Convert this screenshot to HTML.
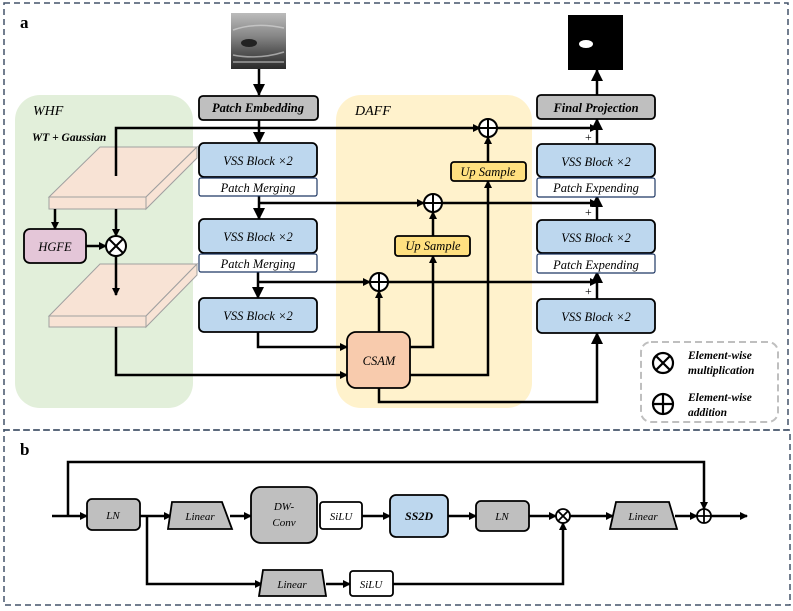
<!DOCTYPE html>
<html><head><meta charset="utf-8"><style>
body{margin:0;background:#fff}
svg{display:block}
text{font-family:"Liberation Serif",serif;font-style:italic}
text.n{font-style:normal}
</style></head><body>
<svg width="793" height="611" viewBox="0 0 793 611" xmlns="http://www.w3.org/2000/svg">
<defs>
<marker id="ah" markerWidth="8" markerHeight="8" refX="7" refY="4" orient="auto" markerUnits="userSpaceOnUse"><path d="M0,0 L8,4 L0,8 z" fill="#000"/></marker>
<marker id="ab" markerWidth="12" markerHeight="12" refX="11" refY="6" orient="auto" markerUnits="userSpaceOnUse"><path d="M0,0 L12,6 L0,12 z" fill="#000"/></marker>
<linearGradient id="us" x1="0" y1="0" x2="0" y2="1"><stop offset="0" stop-color="#bbb"/><stop offset="0.4" stop-color="#888"/><stop offset="0.7" stop-color="#555"/><stop offset="1" stop-color="#2a2a2a"/></linearGradient>
</defs>
<rect x="4" y="3" width="784" height="427" fill="none" stroke="#44546a" stroke-width="1.5" stroke-dasharray="6,4"/>
<rect x="4" y="430" width="786" height="175" fill="none" stroke="#44546a" stroke-width="1.5" stroke-dasharray="6,4"/>
<text class="n" x="20" y="28" font-weight="bold" font-size="17">a</text>
<text class="n" x="20" y="455" font-weight="bold" font-size="17">b</text>

<rect x="15" y="95" width="178" height="313" rx="25" fill="#e2efda"/>
<rect x="336" y="95" width="196" height="313" rx="25" fill="#fff2cc"/>
<text x="33" y="115" font-size="14">WHF</text>
<text x="355" y="115" font-size="14">DAFF</text>
<text x="32" y="141" font-size="11.5" font-weight="bold">WT + Gaussian</text>

<rect x="231" y="13" width="55" height="56" fill="url(#us)"/>
<path d="M233,30 Q255,22 284,28 M233,55 Q258,60 284,52 M233,62 H284" stroke="#ddd" stroke-width="1.5" fill="none" opacity="0.6"/>
<ellipse cx="249" cy="43" rx="8" ry="4" fill="#222"/>
<rect x="568" y="15" width="55" height="55" fill="#000"/>
<ellipse cx="586" cy="44" rx="7" ry="4" fill="#fff"/>

<g fill="#f8e3d5" stroke="#a0a0a0" stroke-width="1">
<polygon points="49,197 100,147 197,147 146,197"/>
<rect x="49" y="197" width="97" height="12"/>
<polygon points="146,197 197,147 197,158 146,209"/>
<polygon points="49,316 100,264 197,264 146,316"/>
<rect x="49" y="316" width="97" height="11"/>
<polygon points="146,316 197,264 197,275 146,327"/>
</g>

<g stroke="#000" stroke-width="2.5" fill="none">
<line x1="259" y1="69" x2="259" y2="95" marker-end="url(#ab)"/>
<line x1="259" y1="120" x2="259" y2="143" marker-end="url(#ab)"/>
<polyline points="116,176 116,128 480,128" marker-end="url(#ah)"/>
<line x1="496" y1="128" x2="597" y2="128" marker-end="url(#ah)"/>
<line x1="55" y1="209" x2="55" y2="229" marker-end="url(#ah)"/>
<line x1="116" y1="209" x2="116" y2="236" marker-end="url(#ah)"/>
<line x1="86" y1="246" x2="106" y2="246" marker-end="url(#ah)"/>
<line x1="116" y1="256" x2="116" y2="295" marker-end="url(#ah)"/>
<polyline points="116,327 116,375 347,375" marker-end="url(#ah)"/>
<line x1="259" y1="196" x2="259" y2="219" marker-end="url(#ab)"/>
<line x1="259" y1="203" x2="424" y2="203" marker-end="url(#ah)"/>
<line x1="441" y1="203" x2="597" y2="203" marker-end="url(#ah)"/>
<line x1="258" y1="272" x2="258" y2="298" marker-end="url(#ab)"/>
<line x1="258" y1="282" x2="370" y2="282" marker-end="url(#ah)"/>
<line x1="388" y1="282" x2="597" y2="282" marker-end="url(#ah)"/>
<polyline points="258,332 258,347 347,347" marker-end="url(#ah)"/>
<line x1="379" y1="332" x2="379" y2="291" marker-end="url(#ah)"/>
<polyline points="410,347 433,347 433,256" marker-end="url(#ah)"/>
<line x1="433" y1="236" x2="433" y2="212" marker-end="url(#ah)"/>
<polyline points="410,375 488,375 488,181" marker-end="url(#ah)"/>
<line x1="488" y1="162" x2="488" y2="137" marker-end="url(#ah)"/>
<polyline points="379,388 379,402 597,402 597,333" marker-end="url(#ab)"/>
<line x1="597" y1="144" x2="597" y2="119" marker-end="url(#ab)"/>
<line x1="597" y1="220" x2="597" y2="196" marker-end="url(#ab)"/>
<line x1="597" y1="299" x2="597" y2="272" marker-end="url(#ab)"/>
<line x1="597" y1="95" x2="597" y2="70" marker-end="url(#ab)"/>
</g>
<g font-size="12" font-family="Liberation Sans">
<text class="n" x="585" y="141">+</text><text class="n" x="585" y="216">+</text><text class="n" x="585" y="295">+</text>
</g>

<g stroke="#000" stroke-width="1.8">
<rect x="199" y="96" width="119" height="24" rx="4" fill="#bfbfbf"/>
<rect x="537" y="95" width="118" height="24" rx="4" fill="#bfbfbf"/>
<rect x="199" y="143" width="118" height="34" rx="5" fill="#bdd7ee"/>
<rect x="199" y="219" width="118" height="34" rx="5" fill="#bdd7ee"/>
<rect x="199" y="298" width="118" height="34" rx="5" fill="#bdd7ee"/>
<rect x="537" y="144" width="118" height="33" rx="5" fill="#bdd7ee"/>
<rect x="537" y="220" width="118" height="33" rx="5" fill="#bdd7ee"/>
<rect x="537" y="299" width="118" height="34" rx="5" fill="#bdd7ee"/>
<rect x="24" y="229" width="62" height="34" rx="6" fill="#e4c6d8"/>
<rect x="347" y="332" width="63" height="56" rx="9" fill="#f8cbad"/>
<rect x="451" y="162" width="75" height="19" rx="3" fill="#ffe080"/>
<rect x="395" y="236" width="75" height="20" rx="3" fill="#ffe080"/>
</g>
<g stroke="#1f3864" stroke-width="1.2" fill="#fff">
<rect x="199" y="178" width="118" height="18" rx="2"/>
<rect x="199" y="254" width="118" height="18" rx="2"/>
<rect x="537" y="178" width="118" height="19" rx="2"/>
<rect x="537" y="254" width="118" height="19" rx="2"/>
</g>
<g text-anchor="middle" font-size="12.5">
<text x="258" y="112" font-weight="bold">Patch Embedding</text>
<text x="596" y="112" font-weight="bold">Final Projection</text>
<text x="258" y="165">VSS Block ×2</text>
<text x="258" y="241">VSS Block ×2</text>
<text x="258" y="320">VSS Block ×2</text>
<text x="596" y="166">VSS Block ×2</text>
<text x="596" y="242">VSS Block ×2</text>
<text x="596" y="321">VSS Block ×2</text>
<text x="258" y="192">Patch Merging</text>
<text x="258" y="268">Patch Merging</text>
<text x="596" y="192">Patch Expending</text>
<text x="596" y="269">Patch Expending</text>
<text x="55" y="251">HGFE</text>
<text x="379" y="365">CSAM</text>
<text x="488" y="176">Up Sample</text>
<text x="433" y="250">Up Sample</text>
</g>
<g stroke="#000" stroke-width="2" fill="#fff">
<circle cx="116" cy="246" r="10"/>
<circle cx="488" cy="128" r="9"/>
<circle cx="433" cy="203" r="9"/>
<circle cx="379" cy="282" r="9"/>
</g>
<g stroke="#000" stroke-width="2">
<path d="M109,239 L123,253 M123,239 L109,253"/>
<path d="M479,128 H497 M488,119 V137"/>
<path d="M424,203 H442 M433,194 V212"/>
<path d="M370,282 H388 M379,273 V291"/>
</g>
<rect x="641" y="342" width="137" height="80" rx="10" fill="#fff" stroke="#bfbfbf" stroke-width="2" stroke-dasharray="7,4"/>
<g stroke="#000" stroke-width="2.2" fill="none">
<circle cx="663" cy="363" r="10"/><path d="M656,356 L670,370 M670,356 L656,370"/>
<circle cx="663" cy="404" r="10"/><path d="M653,404 H673 M663,394 V414"/>
</g>
<g font-size="11.5" font-weight="bold">
<text x="688" y="359">Element-wise</text>
<text x="688" y="374">multiplication</text>
<text x="688" y="401">Element-wise</text>
<text x="688" y="416">addition</text>
</g>

<g stroke="#000" stroke-width="2.5" fill="none">
<line x1="52" y1="516" x2="87" y2="516" marker-end="url(#ah)"/>
<polyline points="68,516 68,462 704,462 704,509" marker-end="url(#ah)"/>
<line x1="140" y1="516" x2="171" y2="516" marker-end="url(#ah)"/>
<line x1="230" y1="516" x2="251" y2="516" marker-end="url(#ah)"/>
<line x1="362" y1="516" x2="390" y2="516" marker-end="url(#ah)"/>
<line x1="448" y1="516" x2="476" y2="516" marker-end="url(#ah)"/>
<line x1="529" y1="516" x2="556" y2="516" marker-end="url(#ah)"/>
<line x1="570" y1="516" x2="613" y2="516" marker-end="url(#ah)"/>
<line x1="675" y1="516" x2="697" y2="516" marker-end="url(#ah)"/>
<line x1="711" y1="516" x2="747" y2="516" marker-end="url(#ah)"/>
<polyline points="147,516 147,584 262,584" marker-end="url(#ah)"/>
<line x1="326" y1="584" x2="350" y2="584" marker-end="url(#ah)"/>
<polyline points="393,584 563,584 563,523" marker-end="url(#ah)"/>
</g>
<g stroke="#000" stroke-width="1.8">
<rect x="87" y="499" width="53" height="31" rx="5" fill="#bfbfbf"/>
<polygon points="172,502 222,502 232,529 168,529" fill="#bfbfbf"/>
<rect x="251" y="487" width="66" height="56" rx="10" fill="#bfbfbf"/>
<rect x="320" y="502" width="42" height="27" rx="3" fill="#fff"/>
<rect x="390" y="495" width="58" height="42" rx="6" fill="#bdd7ee"/>
<rect x="476" y="501" width="53" height="30" rx="5" fill="#bfbfbf"/>
<polygon points="616,502 669,502 677,529 610,529" fill="#bfbfbf"/>
<polygon points="263,570 322,570 326,596 259,596" fill="#bfbfbf"/>
<rect x="350" y="571" width="43" height="25" rx="3" fill="#fff"/>
<circle cx="563" cy="516" r="7" fill="#fff"/>
<circle cx="704" cy="516" r="7" fill="#fff"/>
<path d="M558,511 L568,521 M568,511 L558,521 M697,516 H711 M704,509 V523" fill="none"/>
</g>
<g text-anchor="middle" font-size="11">
<text x="113" y="519">LN</text>
<text x="200" y="520">Linear</text>
<text x="284" y="510">DW-</text>
<text x="284" y="526">Conv</text>
<text x="341" y="520">SiLU</text>
<text x="419" y="520" font-weight="bold" font-size="12">SS2D</text>
<text x="502" y="520">LN</text>
<text x="643" y="520">Linear</text>
<text x="292" y="588">Linear</text>
<text x="371" y="588">SiLU</text>
</g>
</svg>
</body></html>
